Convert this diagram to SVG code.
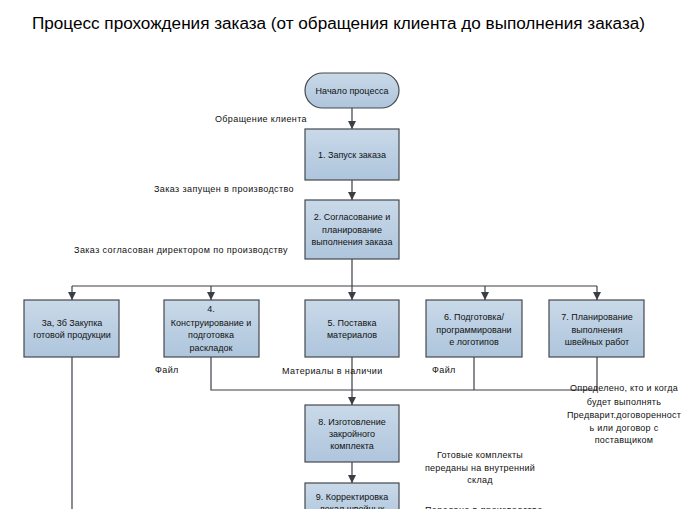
<svg xmlns="http://www.w3.org/2000/svg" width="695" height="509" viewBox="0 0 695 509">
<defs>
<linearGradient id="g" x1="0" y1="0" x2="0" y2="1">
<stop offset="0" stop-color="#c9d9e9"/>
<stop offset="1" stop-color="#aec5dc"/>
</linearGradient>
<marker id="arr" viewBox="0 0 10 10" refX="10" refY="5" markerWidth="8" markerHeight="8" markerUnits="userSpaceOnUse" orient="auto">
<path d="M0,0 L10,5 L0,10 z" fill="#3a3f46"/>
</marker>
</defs>
<style>
.n{fill:url(#g);stroke:#45484d;stroke-width:1.2}
.t{font-family:"Liberation Sans",Arial,sans-serif;font-size:9px;fill:#111;text-anchor:middle}
.lc{font-family:"Liberation Sans",Arial,sans-serif;font-size:9px;fill:#111;text-anchor:middle;letter-spacing:0.25px}
.l{font-family:"Liberation Sans",Arial,sans-serif;font-size:9px;fill:#111;letter-spacing:0.4px}
.c{fill:none;stroke:#3a3f46;stroke-width:1.2}
.title{font-family:"Liberation Sans",Arial,sans-serif;font-size:16px;fill:#000}
</style>
<rect width="695" height="509" fill="#fff"/>
<text class="title" x="32" y="29" textLength="613" lengthAdjust="spacingAndGlyphs">Процесс прохождения заказа (от обращения клиента до выполнения заказа)</text>

<g id="connectors">
<line class="c" x1="352" y1="108" x2="352" y2="129" marker-end="url(#arr)"/>
<line class="c" x1="352" y1="180" x2="352" y2="200" marker-end="url(#arr)"/>
<polyline class="c" points="352,259 352,286"/>
<polyline class="c" points="72,286 597,286"/>
<line class="c" x1="72" y1="286" x2="72" y2="300" marker-end="url(#arr)"/>
<line class="c" x1="211" y1="286" x2="211" y2="300" marker-end="url(#arr)"/>
<line class="c" x1="352" y1="286" x2="352" y2="300" marker-end="url(#arr)"/>
<line class="c" x1="485" y1="286" x2="485" y2="300" marker-end="url(#arr)"/>
<line class="c" x1="597" y1="286" x2="597" y2="300" marker-end="url(#arr)"/>
<line class="c" x1="72" y1="357" x2="72" y2="512"/>
<polyline class="c" points="211,357 211,390 597,390 597,357"/>
<line class="c" x1="474" y1="357" x2="474" y2="390"/>
<line class="c" x1="352" y1="357" x2="352" y2="405" marker-end="url(#arr)"/>
<line class="c" x1="352" y1="462" x2="352" y2="483" marker-end="url(#arr)"/>
</g>

<g id="start">
<rect class="n" x="305" y="73" width="94" height="35" rx="17.5"/>
<text class="t" x="352" y="94">Начало процесса</text>
</g>
<g id="n1">
<rect class="n" x="305" y="129" width="94" height="51"/>
<text class="t" x="352" y="158">1. Запуск заказа</text>
</g>
<g id="n2">
<rect class="n" x="305" y="200" width="94" height="59"/>
<text class="t" x="352" y="220">2. Согласование и</text>
<text class="t" x="352" y="233">планирование</text>
<text class="t" x="352" y="245">выполнения заказа</text>
</g>
<g id="n3">
<rect class="n" x="24" y="300" width="95" height="57"/>
<text class="t" x="72" y="326">3а, 3б Закупка</text>
<text class="t" x="72" y="338">готовой продукции</text>
</g>
<g id="n4">
<rect class="n" x="164" y="300" width="95" height="57"/>
<text class="t" x="211" y="312">4.</text>
<text class="t" x="211" y="326">Конструирование и</text>
<text class="t" x="211" y="338">подготовка</text>
<text class="t" x="211" y="351">раскладок</text>
</g>
<g id="n5">
<rect class="n" x="305" y="300" width="94" height="57"/>
<text class="t" x="352" y="326">5. Поставка</text>
<text class="t" x="352" y="338">материалов</text>
</g>
<g id="n6">
<rect class="n" x="426" y="300" width="96" height="57"/>
<text class="t" x="474" y="320">6. Подготовка/</text>
<text class="t" x="474" y="333">программировани</text>
<text class="t" x="474" y="345">е логотипов</text>
</g>
<g id="n7">
<rect class="n" x="549" y="300" width="95" height="57"/>
<text class="t" x="597" y="320">7. Планирование</text>
<text class="t" x="597" y="333">выполнения</text>
<text class="t" x="597" y="345">швейных работ</text>
</g>
<g id="n8">
<rect class="n" x="305" y="405" width="94" height="57"/>
<text class="t" x="352" y="425">8. Изготовление</text>
<text class="t" x="352" y="437">закройного</text>
<text class="t" x="352" y="449">комплекта</text>
</g>
<g id="n9">
<rect class="n" x="305" y="483" width="94" height="40"/>
<text class="t" x="352" y="500">9. Корректировка</text>
<text class="t" x="352" y="512">лекал швейных</text>
</g>

<g id="labels">
<text class="l" x="307" y="122" text-anchor="end">Обращение клиента</text>
<text class="l" x="294" y="192" text-anchor="end">Заказ запущен в производство</text>
<text class="l" x="288" y="253" text-anchor="end">Заказ согласован директором по производству</text>
<text class="l" x="155" y="373">Файл</text>
<text class="l" x="282" y="374">Материалы в наличии</text>
<text class="l" x="432" y="373">Файл</text>
<text class="lc" x="624" y="391">Определено, кто и когда</text>
<text class="lc" x="624" y="405">будет выполнять</text>
<text class="lc" x="624" y="418">Предварит.договоренност</text>
<text class="lc" x="624" y="431">ь или договор с</text>
<text class="lc" x="624" y="443">поставщиком</text>
<text class="lc" x="480" y="458">Готовые комплекты</text>
<text class="lc" x="480" y="471">переданы на внутренний</text>
<text class="lc" x="480" y="483">склад</text>
<text class="l" x="425" y="513">Передано в производство</text>
</g>
</svg>
